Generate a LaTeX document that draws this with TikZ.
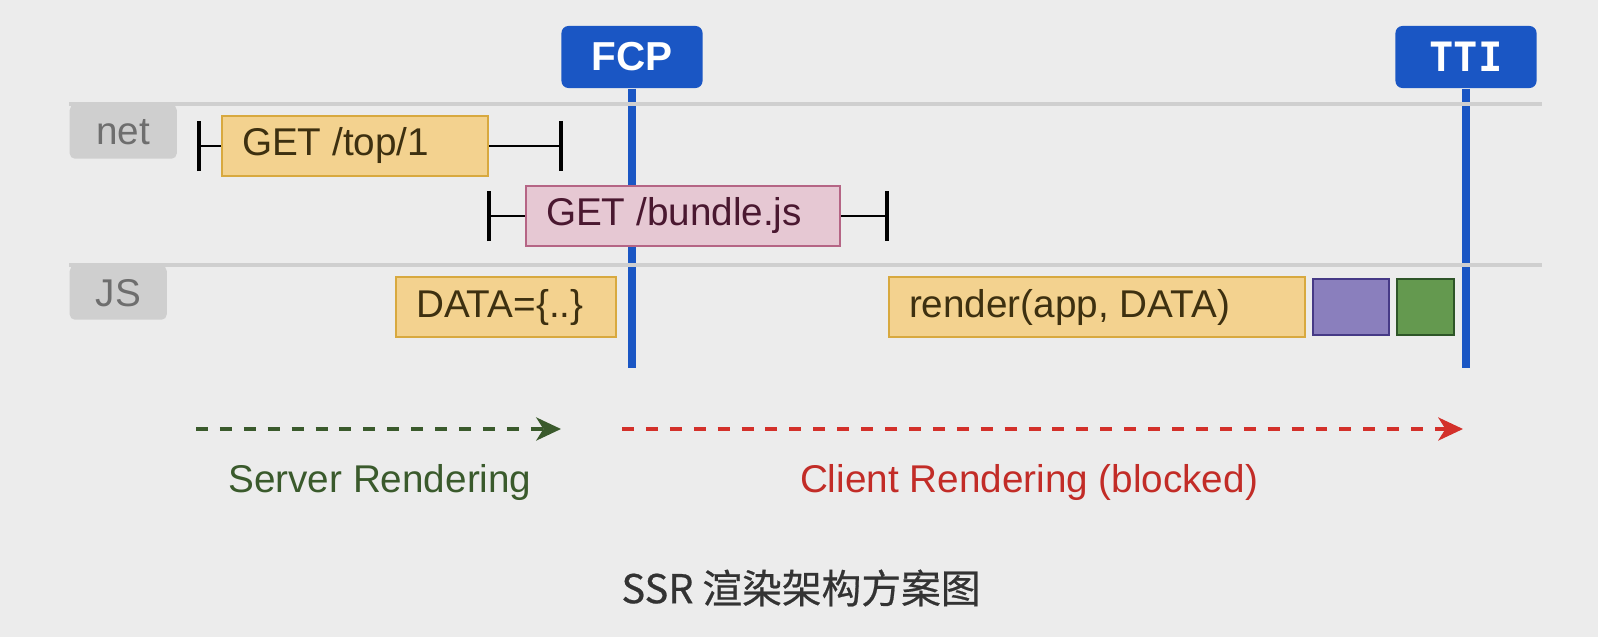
\documentclass[tikz,border=0pt]{standalone}
\usepackage{fontspec}
\setmainfont{Liberation Sans}
\setmonofont{DejaVu Sans Mono}
\newfontfamily\cjkfont[FakeBold=0.5]{Noto Sans CJK SC}
\usetikzlibrary{arrows.meta}

\definecolor{bggray}{HTML}{ECECEC}
\definecolor{lanegray}{HTML}{CFCFCF}
\definecolor{tabtext}{HTML}{6E6E6E}
\definecolor{markblue}{HTML}{1A56C4}
\definecolor{yfill}{HTML}{F3D28F}
\definecolor{ydraw}{HTML}{D8A93F}
\definecolor{ytext}{HTML}{3D3010}
\definecolor{pfill}{HTML}{E6C8D3}
\definecolor{pdraw}{HTML}{B56585}
\definecolor{ptext}{HTML}{4A1830}
\definecolor{vfill}{HTML}{8A7FBD}
\definecolor{vdraw}{HTML}{463A86}
\definecolor{gfill}{HTML}{64994F}
\definecolor{gdraw}{HTML}{2E5528}
\definecolor{srvgreen}{HTML}{3A5A2C}
\definecolor{clired}{HTML}{D3302A}
\definecolor{captext}{HTML}{333333}

\newcommand{\tasktext}[2]{\makebox[#1][l]{#2}}

\tikzset{
  txt/.style={font=\fontsize{11}{13}\selectfont},
  lane/.style={draw=lanegray, line width=1.1pt},
  tab/.style={txt, fill=lanegray, text=tabtext, rounded corners=1.5pt,
    minimum height=0.54cm, anchor=north west, inner sep=0pt},
  marker/.style={txt, font=\fontsize{11.5}{13}\selectfont\bfseries, fill=markblue,
    text=white, rounded corners=2pt, minimum width=1.41cm, minimum height=0.62cm},
  markline/.style={draw=markblue, line width=2.3pt},
  task/.style={txt, draw=#1draw, fill=#1fill, text=#1text, line width=0.6pt,
    anchor=west, minimum height=0.56cm, inner xsep=0.2cm},
  chunk/.style={draw=#1draw, fill=#1fill, line width=0.6pt, anchor=west,
    minimum height=0.56cm, inner sep=0pt},
  whisk/.style={draw=black, line width=0.8pt},
  flow/.style={draw=#1, line width=1.2pt, dash pattern=on 3.4pt off 3.4pt,
    -{Stealth[length=7pt, width=6.5pt, inset=2pt]}}
}

\begin{document}
\begin{tikzpicture}[x=0.01cm, y=-0.01cm]
\fill[bggray] (0,0) rectangle (1598,637);
\useasboundingbox (0,0) rectangle (1598,637);

% milestones
\node[marker] (fcp) at (632,57) {FCP};
\node[marker, font=\fontsize{11.5}{13}\selectfont\ttfamily\bfseries] (tti) at (1466,57) {TTI};
\coordinate (fcpend) at (632,368);
\coordinate (ttiend) at (1466,368);
\draw[markline] (fcp.south) -- (fcpend);
\draw[markline] (tti.south) -- (ttiend);

% lanes
\draw[lane] (69,104) -- (1542,104);
\draw[lane] (69,265) -- (1542,265);
\node[tab, minimum width=1.07cm] (net) at (69,104) {net};
\node[tab, minimum width=0.97cm] (js) at (69,265) {JS};

% net requests
\node[task=y] (top) at (221,146) {\tasktext{2.26cm}{GET /top/1}};
\node[task=p] (bundle) at (525,216) {\tasktext{2.74cm}{GET /bundle.js}};
\coordinate (topL) at (197,146);
\coordinate (topR) at (563,146);
\coordinate (bundleL) at (487,216);
\coordinate (bundleR) at (889,216);
\draw[whisk, {Bar[width=0.5cm, line width=1.1pt]}-] (topL) -- (top.west);
\draw[whisk, -{Bar[width=0.5cm, line width=1.1pt]}] (top.east) -- (topR);
\draw[whisk, {Bar[width=0.5cm, line width=1.1pt]}-] (bundleL) -- (bundle.west);
\draw[whisk, -{Bar[width=0.5cm, line width=1.1pt]}] (bundle.east) -- (bundleR);

% js work
\node[task=y] (data) at (395,307) {\tasktext{1.80cm}{DATA=\{..\}}};
\node[task=y] (render) at (888,307) {\tasktext{3.76cm}{render(app, DATA)}};
\node[chunk=v, minimum width=0.76cm] (hydrate) at (1312,307) {};
\node[chunk=g, minimum width=0.57cm] (attach) at (1396,307) {};

% phases
\coordinate (srvA) at (196,429);
\coordinate (srvB) at (561,429);
\coordinate (cliA) at (622,429);
\coordinate (cliB) at (1463,429);
\draw[flow=srvgreen] (srvA) -- (srvB);
\draw[flow=clired] (cliA) -- (cliB);
\node[txt, text=srvgreen] (srv) at (380,482) {Server Rendering};
\node[txt, text=clired!92!black] (cli) at (1029,482) {Client Rendering (blocked)};

\node[text=captext, font=\fontsize{11.3}{13}\selectfont\cjkfont] (cap) at (801,588) {SSR 渲染架构方案图};
\end{tikzpicture}
\end{document}
